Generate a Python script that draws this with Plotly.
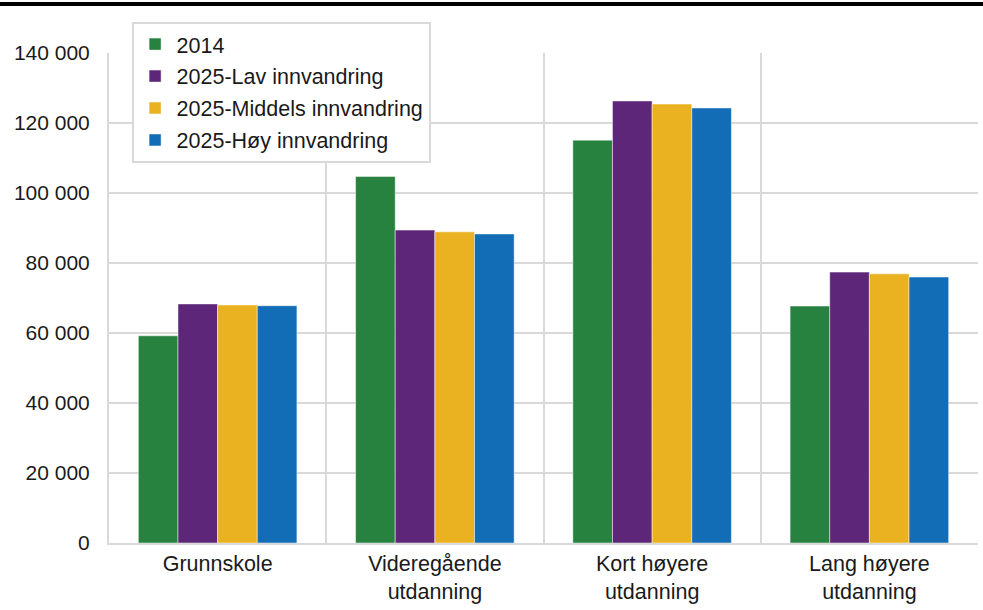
import plotly.graph_objects as go

categories = ["Grunnskole", "Videregående<br>utdanning", "Kort høyere<br>utdanning", "Lang høyere<br>utdanning"]
series_names = ["2014", "2025-Lav innvandring", "2025-Middels innvandring", "2025-Høy innvandring"]
v_2014 = [59200, 104700, 115100, 67700]
v_lav = [68300, 89400, 126300, 77400]
v_middels = [68000, 88900, 125400, 76900]
v_hoy = [67800, 88300, 124300, 76000]
colors = ["#27823F", "#5E2679", "#EAB221", "#136DB6"]

FONT = "Liberation Sans, Arial, sans-serif"

fig = go.Figure()
for i, (name, vals) in enumerate(zip(series_names, [v_2014, v_lav, v_middels, v_hoy])):
    fig.add_trace(go.Bar(
        x=categories, y=vals, name=name, legendgroup=name,
        marker=dict(color=colors[i], line=dict(color="rgba(255,255,255,0.6)", width=0.8)),
    ))

fig.update_layout(
    width=983, height=610,
    margin=dict(l=109, r=5, t=53, b=67, autoexpand=False),
    paper_bgcolor="white", plot_bgcolor="white",
    font=dict(family=FONT, size=21.5, color="#1a1a1a"),
    barmode="group", bargap=0.27, bargroupgap=0,
    separators=", ",
    showlegend=True,
    legend=dict(
        x=0.026, y=1.064, xanchor="left", yanchor="top",
        bgcolor="white", bordercolor="#d9d9d9", borderwidth=2,
        font=dict(size=21.5, color="#1a1a1a"),
        traceorder="grouped", tracegroupgap=1, itemwidth=33,
    ),
    xaxis=dict(
        tickson="boundaries", showgrid=True, gridcolor="#d9d9d9", gridwidth=2,
        showline=True, linecolor="#d9d9d9", linewidth=2, mirror=False,
        ticks="", tickfont=dict(size=21.5), automargin=False,
    ),
    yaxis=dict(
        range=[0, 140000], tickvals=[0, 20000, 40000, 60000, 80000, 100000, 120000, 140000],
        tickformat=",d", showgrid=True, gridcolor="#d9d9d9", gridwidth=2,
        showline=True, linecolor="#d9d9d9", linewidth=2,
        zeroline=False, ticks="", ticklen=0, tickfont=dict(size=21), automargin=False,
        ticklabelstandoff=13,
    ),
    shapes=[dict(
        type="line", xref="paper", yref="paper",
        x0=-0.13, x1=1.02, y0=1.1, y1=1.1,
        line=dict(color="black", width=4),
    )],
)

fig.write_html("out.html", config={"displayModeBar": False},
               post_script="document.body.style.margin='0';")
